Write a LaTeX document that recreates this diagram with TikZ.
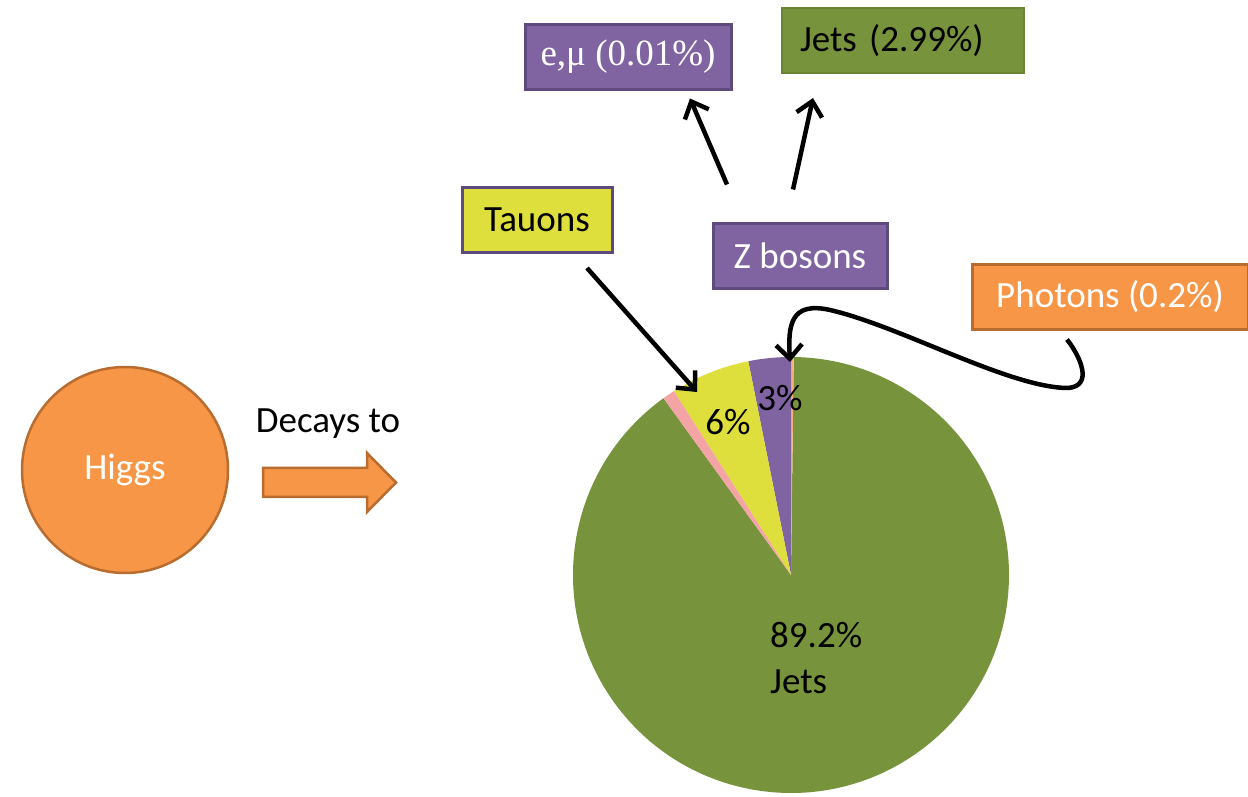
\documentclass[tikz,border=0pt]{standalone}
\usepackage{fontspec}
\setmainfont{Carlito}
\newfontfamily\greekserif{Liberation Serif}
\usetikzlibrary{calc, arrows.meta, positioning}
\definecolor{higgsorange}{HTML}{F79646}
\definecolor{orangeedge}{HTML}{B86C2F}
\definecolor{zpurple}{HTML}{8064A2}
\definecolor{purpleedge}{HTML}{5E4A7D}
\definecolor{jetgreen}{HTML}{77933C}
\definecolor{greenedge}{HTML}{6A8634}
\definecolor{tauyellow}{HTML}{DEDF3C}
\definecolor{slicepink}{HTML}{F4A4A4}
\definecolor{sliceorange}{HTML}{F8B07A}
\newcommand{\labelsize}{\fontsize{37}{46}\selectfont}
\tikzset{
    boxnode/.style = {draw, rectangle, line width=3pt, inner sep=0pt, minimum height=65pt, font=\labelsize},
    circlenode/.style = {circle, draw=orangeedge, fill=higgsorange, line width=2.5pt, inner sep=0pt, minimum size=206pt, text=white, font=\labelsize},
    textnode/.style = {draw=none, fill=none, rectangle, inner sep=0pt, font=\labelsize},
    blockarrow/.style = {draw=orangeedge, fill=higgsorange, line width=2.5pt, line join=miter},
    connect/.style = {black, line width=4.5pt, -{Straight Barb[length=14pt,width=26pt]}}
}

\begin{document}
\begin{tikzpicture}[x=1pt, y=1pt]
\useasboundingbox (0,0) rectangle (1248,796);

% pie chart of the decays
\coordinate (pc) at (791,221);
\foreach \a/\b/\c in {125.8/449.3/jetgreen, 89.3/90/sliceorange, 90/101.3/zpurple, 101.3/122.5/tauyellow, 122.5/125.8/slicepink}
  \fill[\c] (pc) -- ++(\a:218) arc[start angle=\a, end angle=\b, radius=218] -- cycle;

\node[textnode, name=pthree] at (780,398) {3\%};
\node[textnode, name=psix] at (728,374) {6\%};
\node[textnode, name=pjets, anchor=west, align=left] at (770,138) {89.2\%\\Jets};

% Higgs and the block arrow
\node[circlenode, name=higgs] at (125,326) {Higgs};
\node[textnode, name=decays] at (328,372) {Decays to};
\draw[blockarrow] (263,299) -- (367,299) -- (367,284) -- (396,313.5) -- (367,343) -- (367,328) -- (263,328) -- cycle;

% labels in boxes
\node[boxnode, name=tauons, fill=tauyellow, draw=purpleedge, minimum width=150pt] at (537,576) {Tauons};
\node[boxnode, name=zbosons, fill=zpurple, draw=purpleedge, text=white, minimum width=174pt] at (800,540) {Z bosons};
\node[boxnode, name=emu, fill=zpurple, draw=purpleedge, text=white, minimum width=206pt, font=\greekserif\labelsize] at (628,739) {e,μ (0.01\%)};
\node[boxnode, name=jets, fill=jetgreen, draw=greenedge, line width=2pt, inner xsep=18pt, text width=206pt, align=left] at (903,755) {Jets (2.99\%)};
\node[boxnode, name=photons, fill=higgsorange, draw=orangeedge, text=white, minimum width=276pt] at (1110,499) {Photons (0.2\%)};

\coordinate (tauhit) at (697,404);
\coordinate (photonhit) at (790,434);

\draw[connect] ($(tauons.south)+(50,-14)$) -- (tauhit);
\draw[connect] ($(zbosons.north)+(-73,37.5)$) -- ($(emu.south)+(62,-7.5)$);
\draw[connect] ($(zbosons.north)+(-7,32.5)$) -- ($(jets.south)+(-90,-23.5)$);
\draw[connect] ($(photons.south)+(-43,-8.5)$) .. controls (1080,440) and (1094,410) .. (1068,408)
  .. controls (1010,408) and (900,470) .. (830,486) .. controls (790,495) and (788,470) .. (photonhit);
\end{tikzpicture}
\end{document}
